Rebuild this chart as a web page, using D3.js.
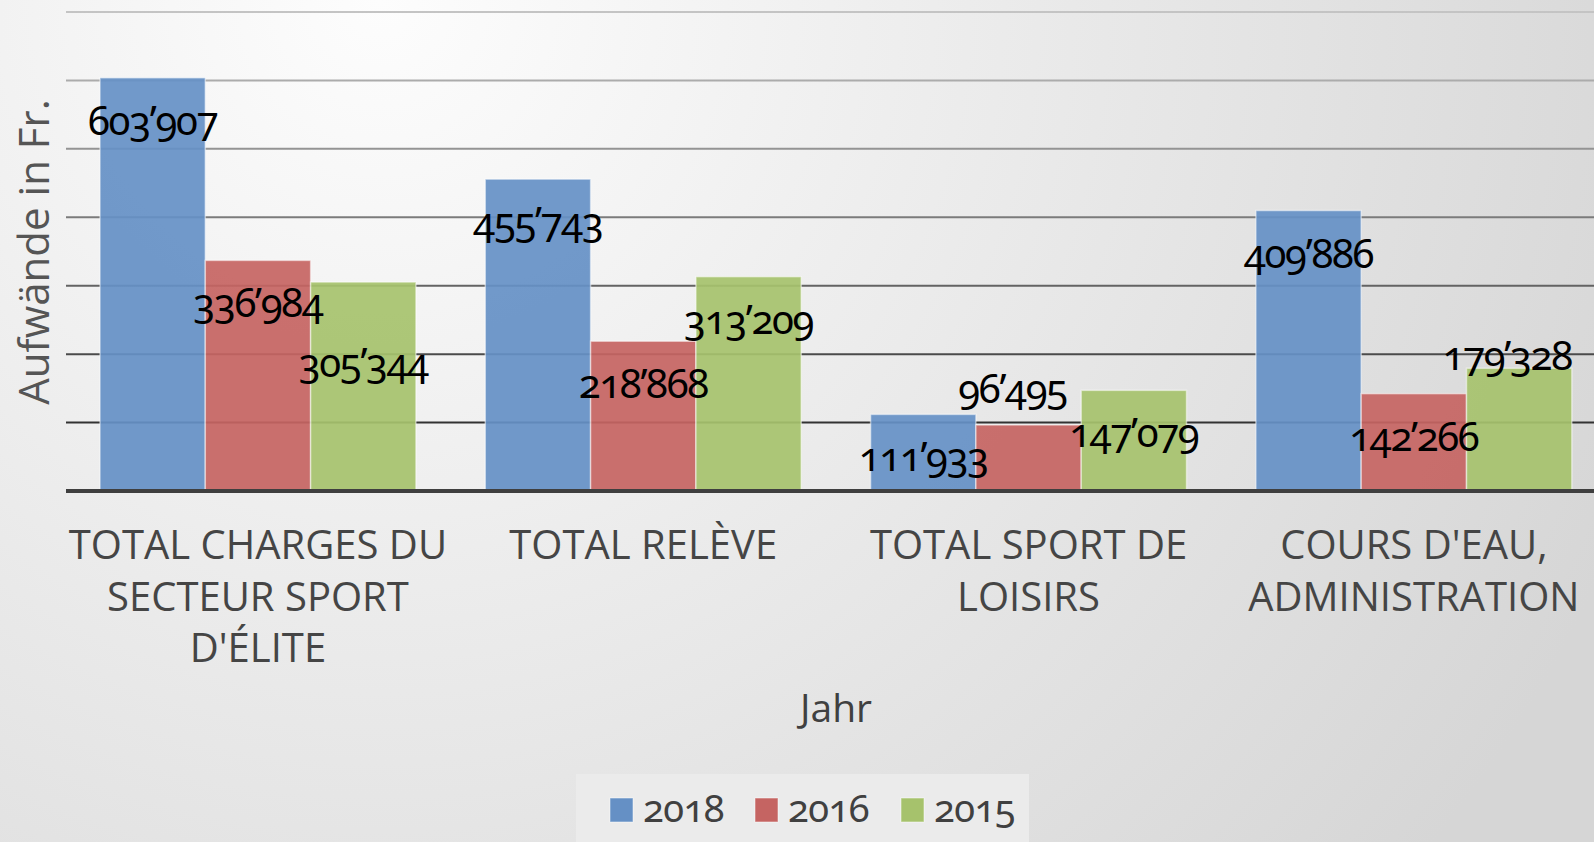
<!DOCTYPE html>
<html lang="de">
<head>
<meta charset="UTF-8">
<title>Aufwände</title>
<style>
  body { margin: 0; }
  svg { display: block; }
  .cat { font-family: "Open Sans", sans-serif; font-size: 40px; fill: #454545; }
  .lbl { font-family: "Noto Sans", sans-serif; font-size: 40px; fill: #000; letter-spacing: -1.3px; font-variant-numeric: oldstyle-nums; }
  .leg { font-family: "Noto Sans", sans-serif; font-size: 38px; fill: #404040; letter-spacing: -0.5px; font-variant-numeric: oldstyle-nums; }
</style>
</head>
<body>
<script src="https://d3js.org/d3.v7.min.js"></script>
<script>
    // categories (x axis) and their wrapped tick labels
    var categories = ["Total charges du secteur sport d'élite", "Total relève", "Total sport de loisirs", "Cours d'eau, administration"];
    var tickLabels = [
        ["TOTAL CHARGES DU", "SECTEUR SPORT", "D'ÉLITE"],
        ["TOTAL RELÈVE"],
        ["TOTAL SPORT DE", "LOISIRS"],
        ["COURS D'EAU,", "ADMINISTRATION"]
    ];
    var years = ["2018", "2016", "2015"];
    var values2018 = [603907, 455743, 111933, 409886];
    var values2016 = [336984, 218868, 96495, 142266];
    var values2015 = [305344, 313209, 147079, 179328];

    var series = [values2018, values2016, values2015];
    var colors = ["#6590c5", "#c56462", "#a6c26c"];

    var W = 1594, H = 842;

    var svg = d3.select('body').append('svg')
        .attr('width', W)
        .attr('height', H);

    var defs = svg.append('defs');
    var bg = defs.append('radialGradient')
        .attr('id', 'bg')
        .attr('gradientUnits', 'userSpaceOnUse')
        .attr('cx', 380).attr('cy', 0).attr('r', 1350);
    bg.append('stop').attr('offset', '0%').attr('stop-color', '#fdfdfd');
    bg.append('stop').attr('offset', '100%').attr('stop-color', '#d6d6d6');

    svg.append('rect')
        .attr('width', W).attr('height', H)
        .attr('fill', 'url(#bg)');

    var x0 = d3.scaleBand()
        .domain(categories)
        .range([65.3, 1606.5])
        .paddingInner(0.18)
        .paddingOuter(0.09);
    var x1 = d3.scaleBand()
        .domain(years)
        .range([0, x0.bandwidth()]);
    var y = d3.scaleLinear()
        .domain([0, 700000])
        .range([491, 12]);

    // gridlines get darker towards the bottom
    var gg = defs.append('linearGradient')
        .attr('id', 'grid')
        .attr('gradientUnits', 'userSpaceOnUse')
        .attr('x1', 0).attr('y1', y(700000)).attr('x2', 0).attr('y2', y(0));
    gg.append('stop').attr('offset', '0%').attr('stop-color', '#c4c4c4');
    gg.append('stop').attr('offset', '100%').attr('stop-color', '#1a1a1a');

    svg.append('g').selectAll('line')
        .data(y.ticks(7).filter(function(d) { return d > 0; }))
        .enter().append('line')
        .attr('x1', 66).attr('x2', W)
        .attr('y1', function(d) { return y(d); })
        .attr('y2', function(d) { return y(d); })
        .attr('stroke', 'url(#grid)')
        .attr('stroke-width', 2);

    var flat = [];
    series.forEach(function(vals, i) {
        vals.forEach(function(v, j) { flat.push({s: i, c: j, v: v}); });
    });

    // bars
    svg.append('g').selectAll('rect')
        .data(flat)
        .enter().append('rect')
        .attr('x', function(d) { return x0(categories[d.c]) + x1(years[d.s]); })
        .attr('y', function(d) { return y(d.v); })
        .attr('width', x1.bandwidth())
        .attr('height', function(d) { return y(0) - y(d.v); })
        .attr('fill', function(d) { return colors[d.s]; })
        .attr('fill-opacity', 0.92)
        .attr('stroke', '#ffffff')
        .attr('stroke-opacity', 0.5)
        .attr('stroke-width', 1.5);

    // axis baseline
    svg.append('g')
        .attr('transform', 'translate(0,' + y(0) + ')')
        .call(d3.axisBottom(x0).tickSize(0).tickFormat(''))
        .call(function(g) {
            g.select('.domain').attr('stroke', '#3f3f3f').attr('stroke-width', 4)
                .attr('d', 'M66,0H' + W);
        });

    // label nudges (layout only): [dx, dy] per series / category
    var nudge = [
        [[0, 0], [0, 0], [0, 0], [0, 0]],
        [[0, 0], [0, 0], [-16, -79], [0, 0]],
        [[0, 38], [0, 0], [0, 0], [-12, -55]]
    ];
    var fmt = function(v) { return d3.format(',')(v).replace(/,/g, '\u2019'); };

    svg.append('g').selectAll('text')
        .data(flat)
        .enter().append('text')
        .attr('class', 'lbl')
        .attr('text-anchor', 'middle')
        .attr('x', function(d) { return x0(categories[d.c]) + x1(years[d.s]) + x1.bandwidth() / 2 + nudge[d.s][d.c][0]; })
        .attr('y', function(d) { return y(d.v) + 43 + nudge[d.s][d.c][1]; })
        .attr('dy', '0.35em')
        .text(function(d) { return fmt(d.v); });

    // category labels
    var cat = svg.append('g').selectAll('text')
        .data(categories)
        .enter().append('text')
        .attr('class', 'cat')
        .attr('text-anchor', 'middle')
        .attr('x', function(d) { return x0(d) + x0.bandwidth() / 2; })
        .attr('y', 559);
    cat.selectAll('tspan')
        .data(function(d, i) { return tickLabels[i]; })
        .enter().append('tspan')
        .attr('x', function() { return d3.select(this.parentNode).attr('x'); })
        .attr('dy', function(d, i) { return i === 0 ? 0 : 51.5; })
        .text(function(d) { return d; });

    // axis titles
    svg.append('text')
        .attr('transform', 'translate(49,252) rotate(-90)')
        .attr('text-anchor', 'middle')
        .style('font-family', '"Open Sans", sans-serif')
        .style('font-size', '42px')
        .style('fill', '#555555')
        .text('Aufwände in Fr.');

    svg.append('text')
        .attr('x', 836).attr('y', 722)
        .attr('text-anchor', 'middle')
        .style('font-family', '"Open Sans", sans-serif')
        .style('font-size', '39px')
        .style('fill', '#404040')
        .text('Jahr');

    // legend
    var leg = svg.append('g');
    leg.append('rect')
        .attr('x', 576).attr('y', 774)
        .attr('width', 453).attr('height', 70)
        .attr('fill', '#ebebeb');
    var legX = [610, 755, 901];
    var item = leg.selectAll('g')
        .data(years)
        .enter().append('g')
        .attr('transform', function(d, i) { return 'translate(' + legX[i] + ',798)'; });
    item.append('rect')
        .attr('width', 23).attr('height', 24)
        .attr('fill', function(d, i) { return colors[i]; })
        .attr('stroke', '#ffffff').attr('stroke-opacity', 0.5);
    item.append('text')
        .attr('class', 'leg')
        .attr('x', 33).attr('y', 24)
        .text(function(d) { return d; });
</script>
</body>
</html>
